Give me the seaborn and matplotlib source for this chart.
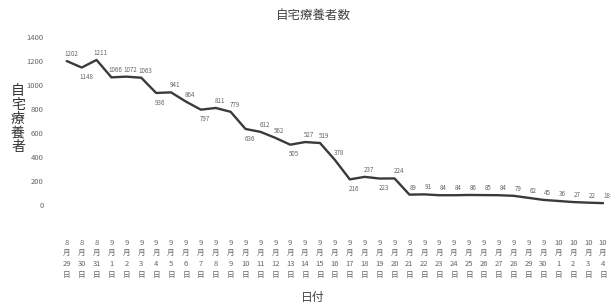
import pandas as pd
import seaborn as sns
import matplotlib.pyplot as plt

# Dates (month, day) and home-care patient counts
months = [8, 8, 8] + [9] * 30 + [10] * 4
days = [29, 30, 31] + list(range(1, 31)) + [1, 2, 3, 4]
patients = [1202, 1148, 1211, 1066, 1072, 1063, 936, 941, 864, 797,
            811, 779, 636, 612, 562, 505, 527, 519, 378, 216,
            237, 223, 224, 89, 91, 84, 84, 86, 85, 84,
            79, 62, 45, 36, 27, 22, 18]
y_ticks = [0, 200, 400, 600, 800, 1000, 1200, 1400]

# points whose value label sits under the line
below_idx = {1, 6, 9, 12, 15, 19, 21}

df = pd.DataFrame({"idx": range(len(patients)), "patients": patients})
tick_labels = [f"{m}\n月\n{d}\n日" for m, d in zip(months, days)]

sns.set_style("white")
plt.rcParams["font.family"] = ["Noto Sans CJK JP", "DejaVu Sans"]

fig = plt.figure(figsize=(6.12, 3.07), dpi=100)
ax = fig.add_axes([0.085, 0.30, 0.915, 0.602])

sns.lineplot(data=df, x="idx", y="patients", color="#3a3a3a", linewidth=1.7, ax=ax)

for i, v in enumerate(patients):
    below = i in below_idx
    ax.annotate(str(v), (i, v), xytext=(3, -7 if below else 5), textcoords="offset points",
                ha="center", va="center", fontsize=4.5, color="#666666")

ax.set_xlim(-0.99, 36.6)
ax.set_ylim(-80, 1460)
ax.set_yticks(y_ticks)
ax.set_yticklabels([str(t) for t in y_ticks], fontsize=5.5, color="#666666")
ax.set_xticks(range(len(patients)))
ax.set_xticklabels(tick_labels, fontsize=5.5, color="#666666", linespacing=1.45)
ax.tick_params(axis="x", length=0, pad=17)
ax.tick_params(axis="y", length=0, pad=6)
ax.set_xlabel("")
ax.set_ylabel("")
sns.despine(ax=ax, left=True, bottom=True)

fig.text(313 / 612, 1 - 15 / 307, "自宅療養者数", ha="center", va="center", fontsize=9, color="#444444")
fig.text(18 / 612, 1 - 119 / 307, "自\n宅\n療\n養\n者", ha="center", va="center",
         fontsize=10, color="#333333", linespacing=1.0)
fig.text(313 / 612, 1 - 298 / 307, "日付", ha="center", va="center", fontsize=8.5, color="#444444")

fig.savefig("out.png", dpi=100)
